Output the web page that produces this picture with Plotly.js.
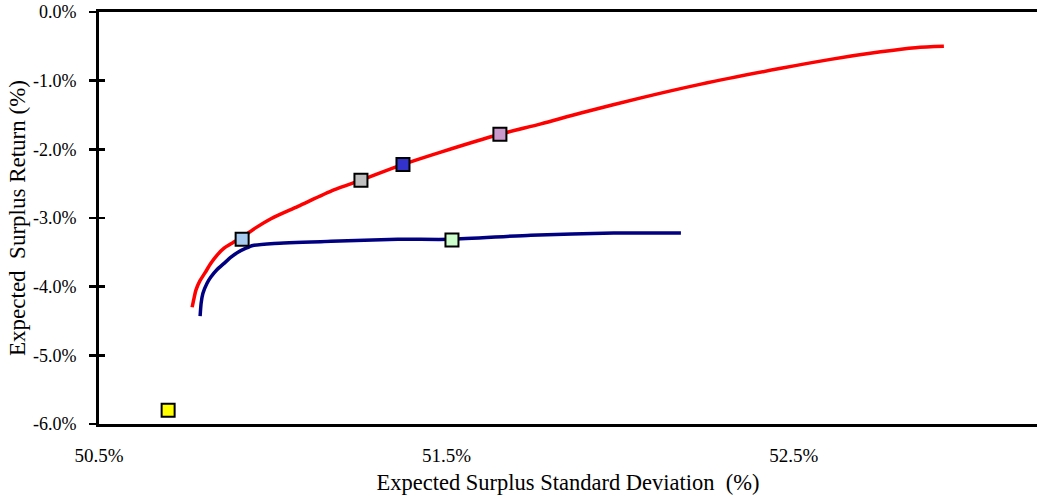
<!DOCTYPE html>
<html>
<head>
<meta charset="utf-8">
<script src="https://cdn.plot.ly/plotly-3.0.1.min.js"></script>
<style>html,body{margin:0;padding:0;background:#fff;}</style>
</head>
<body>
<div id="chart" style="width:1037px;height:496px;"></div>
<script>
// Red frontier (expected surplus std dev %, expected surplus return %)
const redX = [50.768, 50.773, 50.779, 50.790, 50.805, 50.822, 50.840, 50.860, 50.885, 50.912, 50.952, 50.995, 51.073, 51.176, 51.254, 51.375, 51.484, 51.654, 51.772, 51.887, 52.060, 52.233, 52.463, 52.606, 52.750, 52.850, 52.932];
const redY = [-4.30, -4.18, -4.05, -3.92, -3.80, -3.66, -3.54, -3.44, -3.36, -3.28, -3.14, -3.01, -2.83, -2.59, -2.45, -2.22, -2.04, -1.78, -1.63, -1.47, -1.25, -1.05, -0.82, -0.69, -0.58, -0.52, -0.50];

// Blue frontier
const blueX = [50.791, 50.794, 50.799, 50.811, 50.822, 50.840, 50.860, 50.880, 50.900, 50.923, 50.943, 51.004, 51.168, 51.360, 51.513, 51.743, 51.982, 52.175];
const blueY = [-4.43, -4.24, -4.10, -3.95, -3.86, -3.75, -3.66, -3.57, -3.50, -3.44, -3.40, -3.37, -3.34, -3.31, -3.31, -3.25, -3.22, -3.22];

// Individual portfolios
const ptX = [50.699, 50.912, 51.254, 51.375, 51.654, 51.516];
const ptY = [-5.80, -3.31, -2.45, -2.22, -1.78, -3.32];
const ptColors = ['#FFFF00', '#A6CAF0', '#C0C0C0', '#3333CC', '#CC99CC', '#CCFFCC'];

const xTicks = [50.5, 51.5, 52.5];
const yTicks = [0, -1, -2, -3, -4, -5, -6];

const fontFam = '"Liberation Serif", "Times New Roman", serif';

const traces = [
  {x: redX, y: redY, mode: 'lines', type: 'scatter', line: {color: '#FF0000', width: 3.5, shape: 'spline', smoothing: 0.8}, hoverinfo: 'skip'},
  {x: blueX, y: blueY, mode: 'lines', type: 'scatter', line: {color: '#000080', width: 3.5, shape: 'spline', smoothing: 0.6}, hoverinfo: 'skip'},
  {x: ptX, y: ptY, mode: 'markers', type: 'scatter', marker: {symbol: 'square', size: 13, color: ptColors, line: {color: '#000000', width: 2}}},
  {x: [50.5], y: [0], yaxis: 'y2', mode: 'markers', marker: {opacity: 0}, hoverinfo: 'skip'}
];

const layout = {
  width: 1037, height: 496,
  margin: {l: 99, r: 0, t: 12, b: 72},
  paper_bgcolor: '#ffffff', plot_bgcolor: '#ffffff',
  showlegend: false,
  font: {family: fontFam, color: '#000000', size: 16},
  xaxis: {
    range: [50.5, 53.2],
    tickvals: xTicks, ticktext: xTicks.map(v => v.toFixed(1) + '%'),
    ticks: '', showgrid: false, zeroline: false,
    showline: true, linecolor: '#000000', linewidth: 3, mirror: true,
    ticklabelstandoff: 12,
    tickfont: {family: fontFam, size: 19},
    title: {text: 'Expected Surplus Standard Deviation\u00A0\u00A0(%)', font: {family: fontFam, size: 22.5}, standoff: 10}
  },
  yaxis: {
    range: [-6, 0],
    tickvals: yTicks, ticktext: yTicks.map(v => v.toFixed(1) + '%'),
    ticks: 'outside', ticklen: 7, tickwidth: 2.5, tickcolor: '#000000',
    showgrid: false, zeroline: false,
    showline: true, linecolor: '#000000', linewidth: 3,
    ticklabelstandoff: 9,
    tickfont: {family: fontFam, size: 18},
    title: {text: 'Expected\u00A0\u00A0Surplus Return (%)', font: {family: fontFam, size: 23}, standoff: 1}
  },
  yaxis2: {
    overlaying: 'y', side: 'left', range: [-6, 0],
    tickvals: yTicks, ticks: 'inside', ticklen: 6, tickwidth: 2.5, tickcolor: '#000000',
    showticklabels: false, showgrid: false, zeroline: false, showline: false
  }
};

Plotly.newPlot('chart', traces, layout, {staticPlot: true, displayModeBar: false});
</script>
</body>
</html>
